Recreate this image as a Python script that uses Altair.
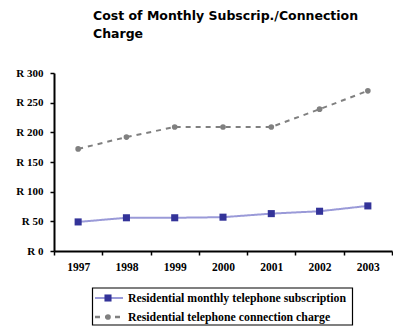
import altair as alt
import pandas as pd

years = ["1997", "1998", "1999", "2000", "2001", "2002", "2003"]
subscription = [49, 56, 56, 57, 63, 67, 76]
connection = [172, 192, 209, 209, 209, 239, 270]
series_names = [
    "Residential monthly telephone subscription",
    "Residential telephone connection charge",
]
y_ticks = [0, 50, 100, 150, 200, 250, 300]

line_colors = ["#9a9ad8", "#808080"]
marker_colors = ["#333399", "#808080"]
marker_shapes = ["square", "circle"]
marker_sizes = [50, 32]
dashes = [[1, 0], [5, 5]]

df = pd.DataFrame(
    {
        "year": years * 2,
        "cost": subscription + connection,
        "series": [series_names[0]] * len(years) + [series_names[1]] * len(years),
    }
)

axis_common = dict(
    title=None, labelFont="Liberation Serif", labelFontWeight="bold",
    labelColor="black", domainColor="black", domainWidth=2,
    tickColor="black", tickWidth=1.5, tickSize=4,
)

x_enc = alt.X(
    "year:O",
    scale=alt.Scale(type="band", paddingInner=0, paddingOuter=0),
    bandPosition=0.5,
    axis=alt.Axis(labelAngle=0, tickBand="extent", labelPadding=6,
                  labelFontSize=11.5, **axis_common),
)
y_enc = alt.Y(
    "cost:Q",
    scale=alt.Scale(domain=[0, 300], nice=False),
    axis=alt.Axis(values=y_ticks, grid=False, labelExpr="'R ' + datum.value",
                  labelFontSize=11, labelPadding=7, **axis_common),
)

def sel(name):
    return dict(scale=alt.Scale(domain=series_names, range=name), legend=None)

lines = alt.Chart(df).mark_line(strokeWidth=2).encode(
    x=x_enc,
    y=y_enc,
    color=alt.Color("series:N", **sel(line_colors)),
    strokeDash=alt.StrokeDash("series:N", **sel(dashes)),
    strokeWidth=alt.StrokeWidth("series:N", **sel([2, 2.5])),
)

points = alt.Chart(df).mark_point(filled=True, opacity=1).encode(
    x=x_enc,
    y=y_enc,
    fill=alt.Fill("series:N", **sel(marker_colors)),
    shape=alt.Shape("series:N", **sel(marker_shapes)),
    size=alt.Size("series:N", **sel(marker_sizes)),
)

# Boxed legend below the plot
legend_box = alt.Chart(pd.DataFrame({"k": [0]})).mark_rect(
    fill="white", stroke="black", strokeWidth=1.2
).encode(x=alt.value(38.5), x2=alt.value(298.5), y=alt.value(215), y2=alt.value(252))

legend_layers = [legend_box]
row_y = [225, 244]
for i, name in enumerate(series_names):
    entry = pd.DataFrame({"series": [name]})
    legend_layers.append(
        alt.Chart(entry).mark_rule(
            color=line_colors[i], strokeWidth=2.5 if i else 2, strokeDash=dashes[i]
        ).encode(x=alt.value(41), x2=alt.value(69), y=alt.value(row_y[i]))
    )
    legend_layers.append(
        alt.Chart(entry).mark_point(
            filled=True, opacity=1, color=marker_colors[i],
            shape=marker_shapes[i], size=marker_sizes[i],
        ).encode(x=alt.value(54), y=alt.value(row_y[i]))
    )
    legend_layers.append(
        alt.Chart(entry).mark_text(
            align="left", baseline="middle", font="Liberation Serif",
            fontWeight="bold", fontSize=11.8, color="black",
        ).encode(x=alt.value(74), y=alt.value(row_y[i]), text="series:N")
    )

chart = (
    alt.layer(lines, points, *legend_layers)
    .properties(
        width=338,
        height=178,
        autosize=alt.AutoSizeParams(type="none"),
        padding={"left": 54, "top": 73, "right": 1, "bottom": 76},
        title=alt.TitleParams(
            ["Cost of Monthly  Subscrip./Connection", "Charge"],
            anchor="start", frame="group", dx=39, offset=27,
            font="DejaVu Sans", fontSize=12.5, fontWeight="bold",
            color="black", lineHeight=18,
        ),
    )
    .configure_view(stroke=None)
)

chart.save("out.html", embed_options={"renderer": "svg", "actions": False})
